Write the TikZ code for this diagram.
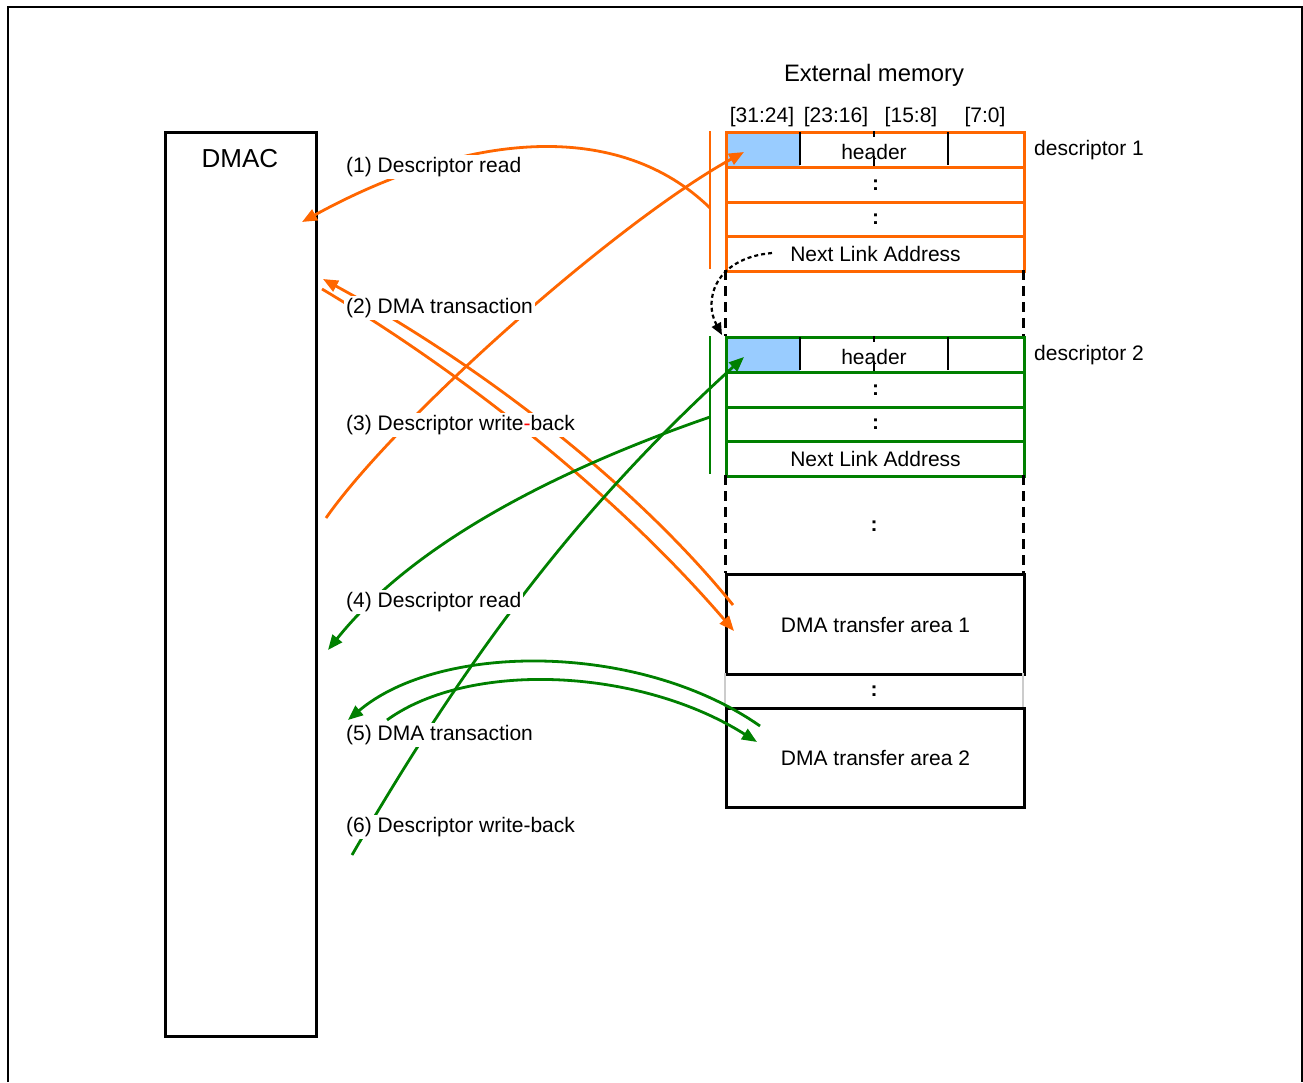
\documentclass[tikz,border=0pt]{standalone}
\usepackage{fontspec}
\setmainfont{Liberation Sans}
\usetikzlibrary{arrows.meta}
\definecolor{orng}{HTML}{FF6600}
\definecolor{grn}{HTML}{008000}
\definecolor{lblue}{HTML}{99CCFF}
\begin{document}
\begin{tikzpicture}[x=1pt,y=-1pt,
  tipped/.style={-{Triangle[length=15pt,width=12pt]}},
  lbl/.style={anchor=west, fill=white, inner sep=2pt, font=\fontsize{21}{24}\selectfont},
  txt/.style={font=\fontsize{21}{24}\selectfont, inner sep=0pt},
  row/.style={draw, line width=3pt, minimum width=298pt, minimum height=34.5pt, inner sep=0pt, anchor=north west, font=\fontsize{21}{24}\selectfont},
  area/.style={draw, line width=3pt, minimum width=298pt, minimum height=100pt, inner sep=0pt, anchor=north west, font=\fontsize{21}{24}\selectfont},
  memside/.style={line width=3pt, dash pattern=on 10pt off 6pt},
  flow/.style={line width=2.8pt},
  bar/.style={line width=1.6pt}]
\useasboundingbox (0,0) rectangle (1303,1082);
% frame
\draw[line width=2pt] (8,1082) -- (8,7) -- (1302,7) -- (1302,1082);

% DMAC
\node[draw, line width=2.5pt, minimum width=151pt, minimum height=904pt, inner sep=0pt, anchor=north west] (dmac) at (164,131) {};
\node[txt, font=\fontsize{26}{30}\selectfont] (dmact) at (240,159) {DMAC};

% titles
\node[txt, font=\fontsize{23.8}{27}\selectfont] (extm) at (874,75) {External memory};
\node[txt] (c1) at (762,117) {[31:24]};
\node[txt] (c2) at (836,117) {[23:16]};
\node[txt] (c3) at (911,117) {[15:8]};
\node[txt] (c4) at (985,117) {[7:0]};

% descriptor 1
\fill[lblue] (725,131) rectangle (800,166);
\node[row, draw=orng] (d1a) at (725,131) {};
\node[txt] (h1) at (874,152) {header};
\node[row, draw=orng] (d1b) at (725,166) {\textbf{:}};
\node[row, draw=orng] (d1c) at (725,200.5) {\textbf{:}};
\node[row, draw=orng] (d1d) at (725,235) {\raisebox{-1pt}{Next Link Address}};
\draw[line width=2.5pt] (800,132) -- (800,165);
\draw[line width=2.5pt] (948,132) -- (948,165);
\draw[line width=2pt] (874,131) -- (874,137) (874,156) -- (874,166);
\node[txt, anchor=west] (ds1) at (1034,150) {descriptor 1};
\draw[bar, orng] (710,131) coordinate (b1t) -- (710,269) coordinate (b1b);

% gap 1
\draw[memside] (725,270) -- (725,336);
\draw[memside] (1023,270) -- (1023,336);

% descriptor 2
\fill[lblue] (725,336) rectangle (800,371);
\node[row, draw=grn] (d2a) at (725,336) {};
\node[txt] (h2) at (874,357) {header};
\node[row, draw=grn] (d2b) at (725,371) {\textbf{:}};
\node[row, draw=grn] (d2c) at (725,405.5) {\textbf{:}};
\node[row, draw=grn] (d2d) at (725,440) {\raisebox{-1pt}{Next Link Address}};
\draw[line width=2.5pt] (800,337) -- (800,370);
\draw[line width=2.5pt] (948,337) -- (948,370);
\draw[line width=2pt] (874,336) -- (874,342) (874,361) -- (874,371);
\node[txt, anchor=west] (ds2) at (1034,355) {descriptor 2};
\draw[bar, grn] (710,336) coordinate (b2t) -- (710,474) coordinate (b2b);

% gap 2
\draw[memside] (725,475) -- (725,573);
\draw[memside] (1023,475) -- (1023,573);
\node[txt] (gdots) at (874,526) {\textbf{:}};

% transfer areas
\node[area] (a1) at (725,573) {DMA transfer area 1};
\draw[line width=1.5pt, gray!40] (725,673) -- (725,707) (1023,673) -- (1023,707);
\node[txt] (mdots) at (874,691) {\textbf{:}};
\node[area, minimum height=99pt] (a2) at (725,707) {DMA transfer area 2};

% link arrow
\coordinate (lk1) at (772,253);
\coordinate (lk2) at (722,335);
\draw[line width=2.2pt, dash pattern=on 4pt off 3pt, -{Triangle[length=12pt,width=10pt]}] (lk1) .. controls (715,258) and (703,300) .. (lk2);

% coordinates for flows
\coordinate (f1s) at (710,208);
\coordinate (f1e) at (302,222);
\coordinate (f2as) at (733,605);
\coordinate (f2ae) at (323,279);
\coordinate (f2bs) at (322,289);
\coordinate (f2be) at (734,631);
\coordinate (f3s) at (326,518);
\coordinate (f3e) at (744,152);
\coordinate (f4s) at (710,417);
\coordinate (f4e) at (328,650);
\coordinate (f5as) at (760,726);
\coordinate (f5ae) at (348,720);
\coordinate (f5bs) at (387,720);
\coordinate (f5be) at (757,742);
\coordinate (f6s) at (352,855);
\coordinate (f6e) at (744,357);

% orange flows
\draw[flow, orng, tipped] (f1s) .. controls (620,120) and (470,130) .. (f1e);
\draw[flow, orng, tipped] (f2as) .. controls (640,490) and (490,370) .. (f2ae);
\draw[flow, orng, tipped] (f2bs) .. controls (478,382) and (626,505) .. (f2be);
\draw[flow, orng, tipped] (f3s) .. controls (396,418) and (617,222) .. (f3e);
% green flows
\draw[flow, grn, tipped] (f4s) .. controls (565,467) and (416,540) .. (f4e);
\draw[flow, grn, tipped] (f5as) .. controls (640,642) and (440,642) .. (f5ae);
\draw[flow, grn, tipped] (f5bs) .. controls (470,660) and (640,668) .. (f5be);
\draw[flow, grn, tipped] (f6s) .. controls (468,655) and (578,508) .. (f6e);

% labels
\node[lbl] (l1) at (344,167) {(1) Descriptor read};
\node[lbl] (l2) at (344,308) {(2) DMA transaction};
\node[lbl] (l3) at (344,425) {(3) Descriptor write{\color{red}-}back};
\node[lbl] (l4) at (344,602) {(4) Descriptor read};
\node[lbl] (l5) at (344,735) {(5) DMA transaction};
\node[lbl] (l6) at (344,827) {(6) Descriptor write-back};
\end{tikzpicture}
\end{document}
